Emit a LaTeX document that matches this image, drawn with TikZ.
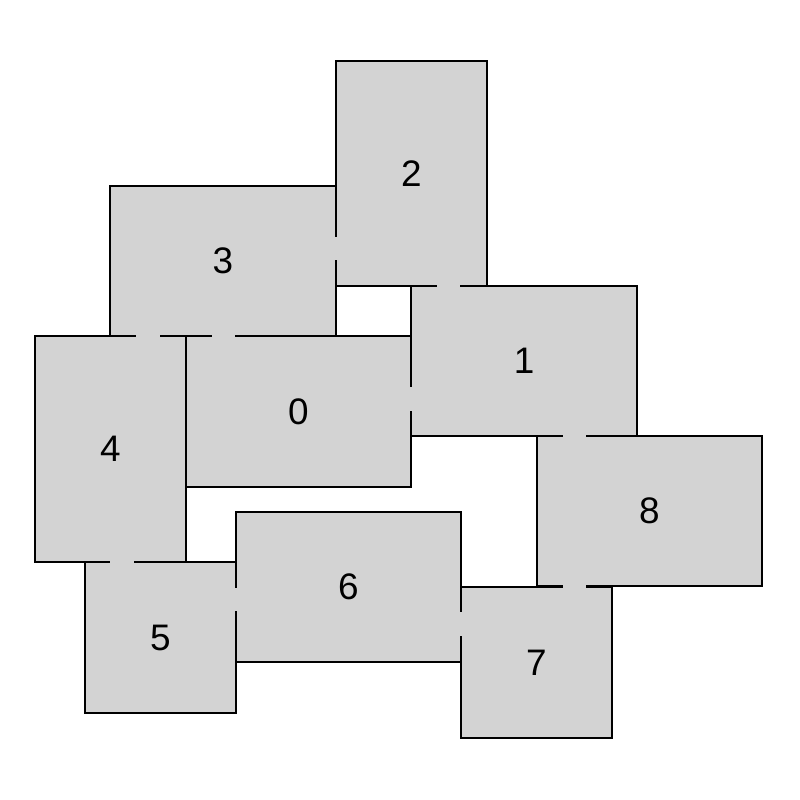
\documentclass[tikz,border=0pt]{standalone}
\usepackage{fontspec}
\setmainfont{Liberation Sans}
\definecolor{roomgray}{RGB}{211,211,211}
\tikzset{
  room/.style={draw, fill=roomgray, line width=0.5pt, inner sep=0pt,
    font=\fontsize{10.5}{12}\selectfont},
  door/.style={roomgray, line width=1.2pt}
}
\begin{document}
\begin{tikzpicture}

\useasboundingbox (0,0) rectangle (8,8);

% Rooms

\node [room, minimum width=1.51cm, minimum height=2.25cm] (r2) at (4.115,6.265) {2};
\node [room, minimum width=2.26cm, minimum height=1.50cm] (r3) at (2.23,5.39) {3};
\node [room, minimum width=2.26cm, minimum height=1.50cm] (r1) at (5.24,4.39) {1};
\node [room, minimum width=2.25cm, minimum height=1.51cm] (r0) at (2.985,3.885) {0};
\node [room, minimum width=1.51cm, minimum height=2.26cm] (r4) at (1.105,3.51) {4};
\node [room, minimum width=2.25cm, minimum height=1.50cm] (r8) at (6.495,2.89) {8};
\node [room, minimum width=2.25cm, minimum height=1.50cm] (r6) at (3.485,2.13) {6};
\node [room, minimum width=1.51cm, minimum height=1.51cm] (r5) at (1.605,1.625) {5};
\node [room, minimum width=1.51cm, minimum height=1.51cm] (r7) at (5.365,1.375) {7};

% Doors

\draw [door] (1.36,4.64) -- (1.60,4.64);
\draw [door] (2.12,4.64) -- (2.35,4.64);
\draw [door] (3.36,5.40) -- (3.36,5.63);
\draw [door] (4.37,5.14) -- (4.60,5.14);
\draw [door] (4.11,3.89) -- (4.11,4.13);
\draw [door] (5.63,3.64) -- (5.86,3.64);
\draw [door] (1.10,2.38) -- (1.34,2.38);
\draw [door] (2.36,1.89) -- (2.36,2.12);
\draw [door] (4.61,1.64) -- (4.61,1.88);
\draw [door] (5.63,2.13) -- (5.86,2.13);
\end{tikzpicture}
\end{document}
